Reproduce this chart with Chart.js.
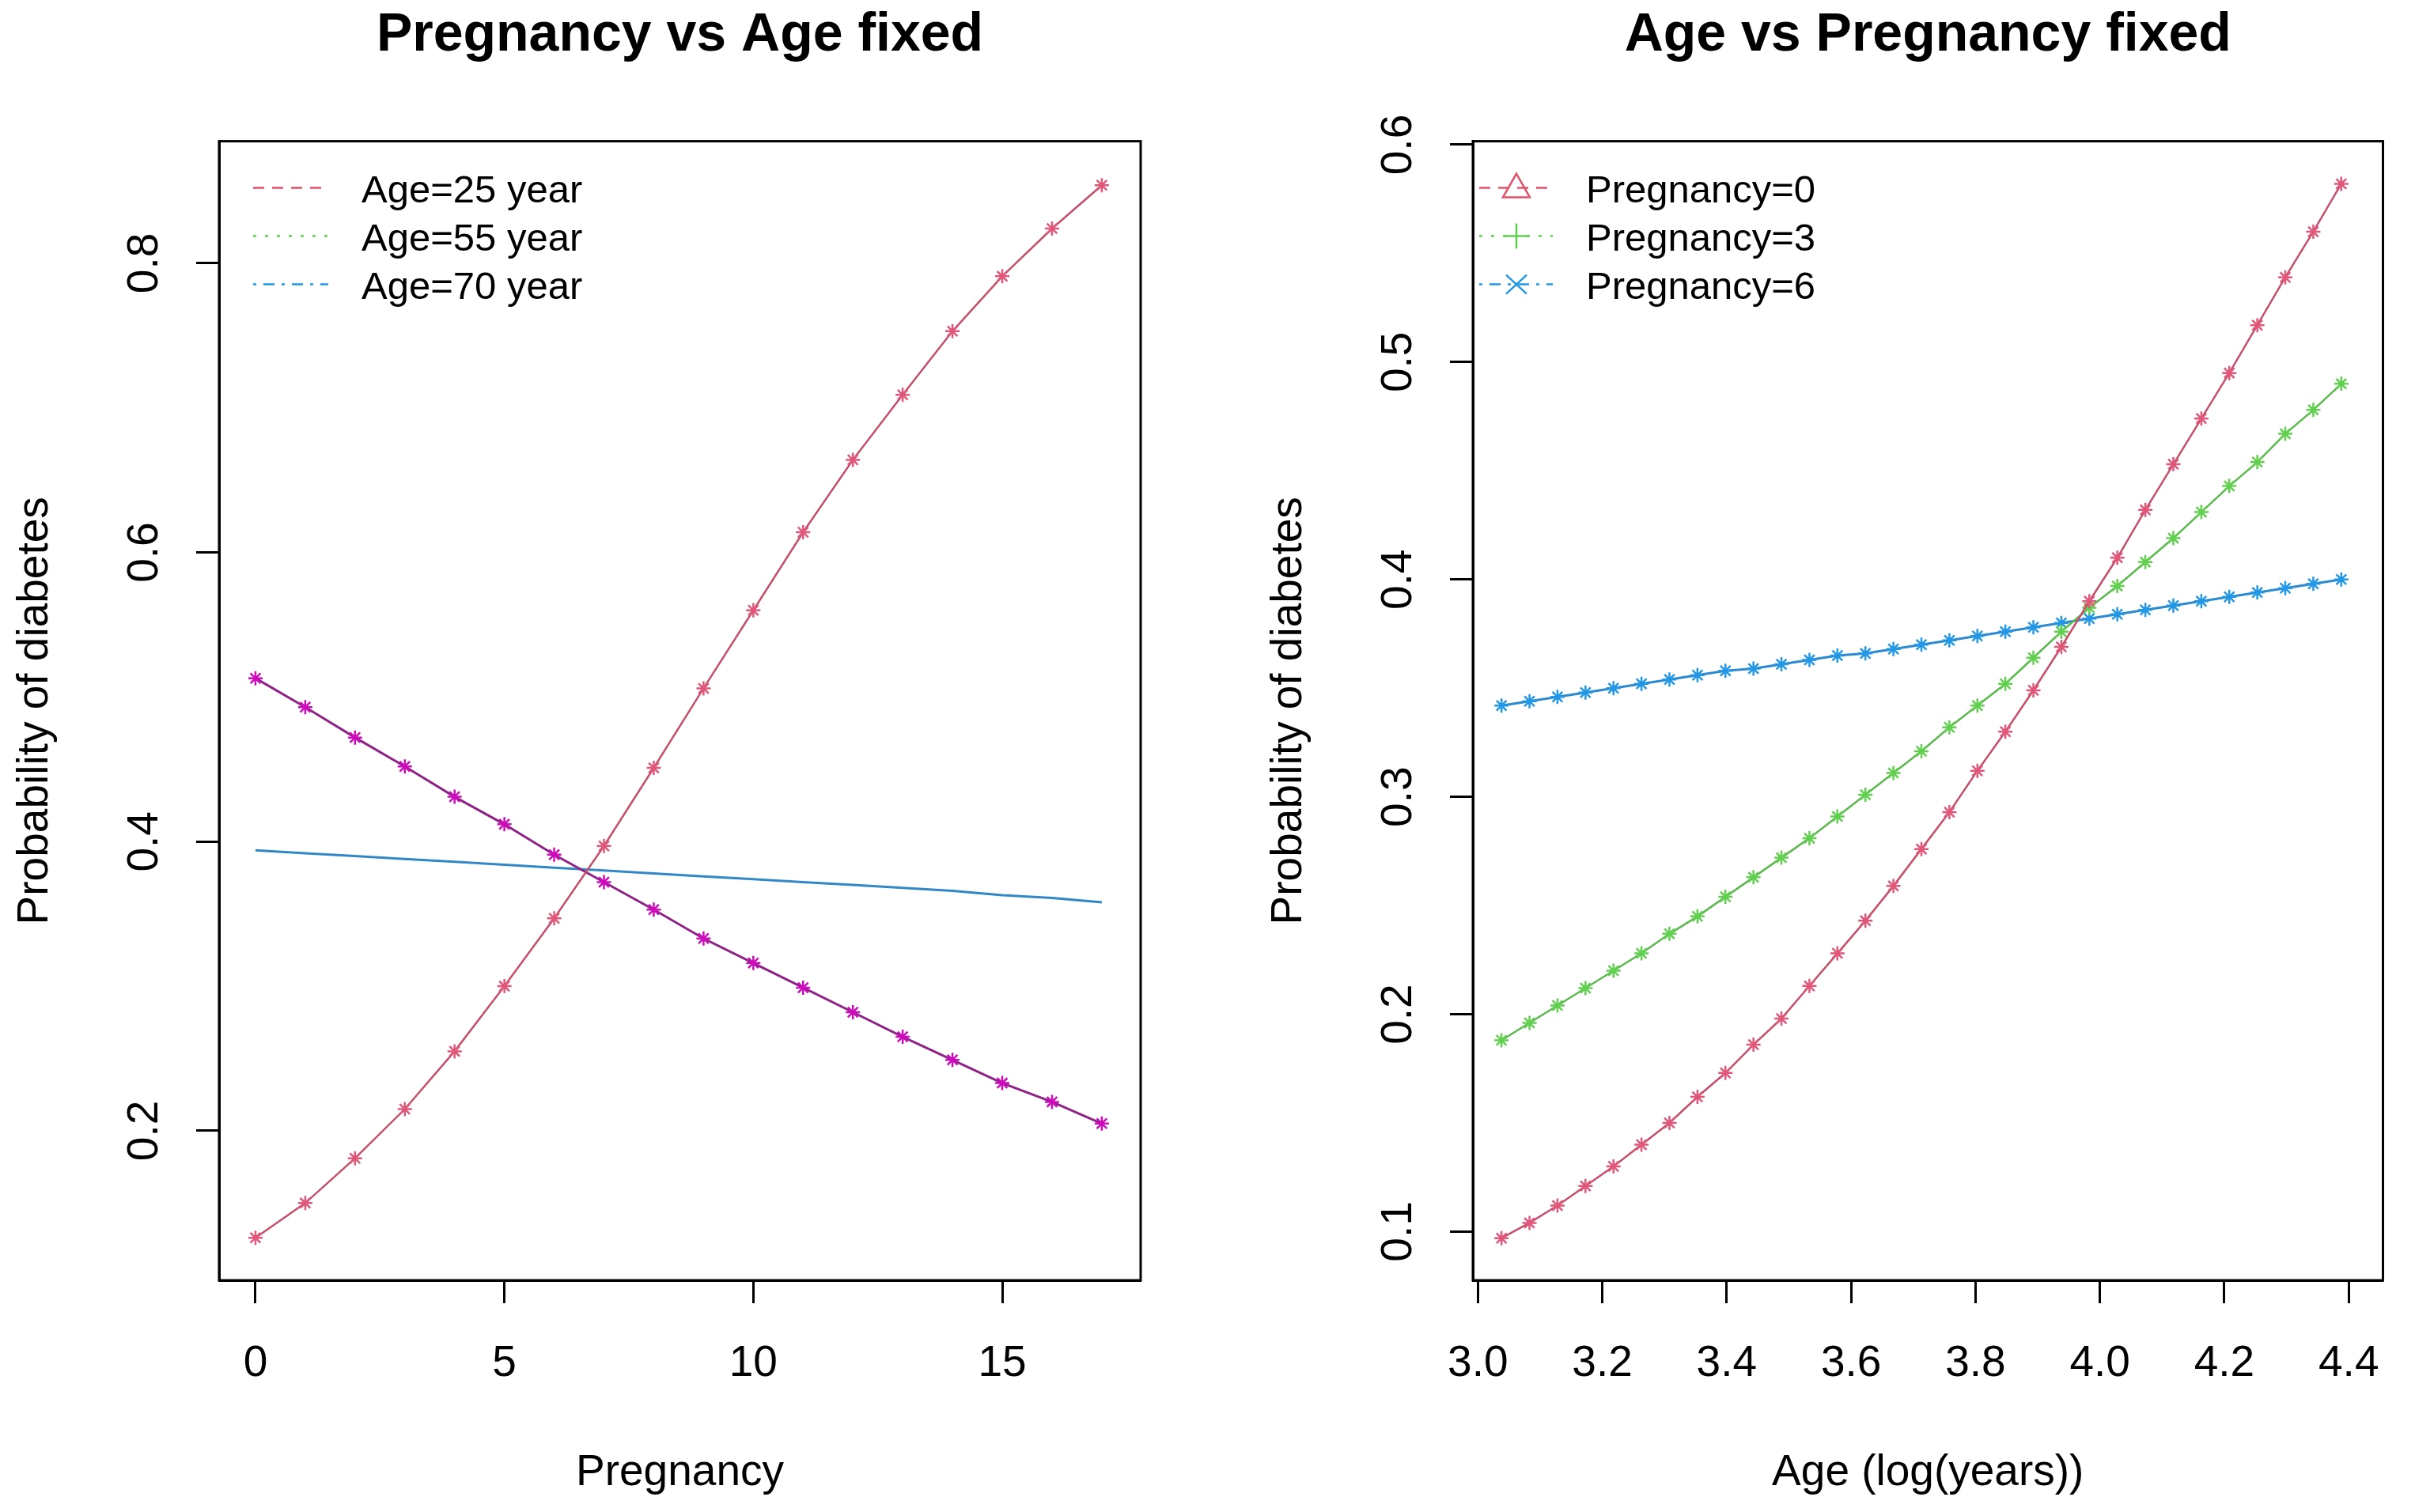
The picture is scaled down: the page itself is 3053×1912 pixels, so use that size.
<!DOCTYPE html>
<html>
<head>
<meta charset="utf-8">
<title>Probability of diabetes</title>
<script src="https://cdn.jsdelivr.net/npm/chart.js@4.4.1/dist/chart.umd.min.js"></script>
<style>
  html, body { margin: 0; padding: 0; background: #fff; }
  #page { position: relative; width: 3053px; height: 1912px; background: #fff; }
  canvas { position: absolute; top: 0; }
  #leftChart { left: 0; }
  #rightChart { left: 1526px; }
</style>
</head>
<body>
<div id="page">
  <canvas id="leftChart" width="1526" height="1912"></canvas>
  <canvas id="rightChart" width="1527" height="1912"></canvas>
</div>
<script>
// left panel: pregnancies with age fixed
var pregnancies = [0, 1, 2, 3, 4, 5, 6, 7, 8, 9, 10, 11, 12, 13, 14, 15, 16, 17];
var age25 = [0.126, 0.150, 0.181, 0.215, 0.255, 0.300, 0.347, 0.397, 0.451, 0.506, 0.560, 0.614, 0.664, 0.709, 0.753, 0.791, 0.824, 0.854];
var age55 = [0.513, 0.493, 0.472, 0.452, 0.431, 0.412, 0.391, 0.372, 0.353, 0.333, 0.316, 0.299, 0.282, 0.265, 0.249, 0.233, 0.220, 0.205];
var age70 = [0.394, 0.392, 0.390, 0.388, 0.386, 0.384, 0.382, 0.380, 0.378, 0.376, 0.374, 0.372, 0.370, 0.368, 0.366, 0.363, 0.361, 0.358];
var leftXTicks = [0, 5, 10, 15];
var leftYTicks = [0.2, 0.4, 0.6, 0.8];
var leftLabels = ['Age=25 year', 'Age=55 year', 'Age=70 year'];

// right panel: log(age) with pregnancy fixed
var logAge = [3.038, 3.083, 3.128, 3.173, 3.218, 3.263, 3.308, 3.353, 3.398, 3.443, 3.488, 3.533, 3.578, 3.623, 3.668, 3.713,
              3.758, 3.803, 3.848, 3.893, 3.938, 3.983, 4.028, 4.073, 4.118, 4.163, 4.208, 4.253, 4.298, 4.343, 4.388];
var preg0 = [0.097, 0.104, 0.112, 0.121, 0.130, 0.140, 0.150, 0.162, 0.173, 0.186, 0.198, 0.213, 0.228, 0.243, 0.259, 0.276,
             0.293, 0.312, 0.330, 0.349, 0.369, 0.390, 0.410, 0.432, 0.453, 0.474, 0.495, 0.517, 0.539, 0.560, 0.582];
var preg3 = [0.188, 0.196, 0.204, 0.212, 0.220, 0.228, 0.237, 0.245, 0.254, 0.263, 0.272, 0.281, 0.291, 0.301, 0.311, 0.321,
             0.332, 0.342, 0.352, 0.364, 0.376, 0.387, 0.397, 0.408, 0.419, 0.431, 0.443, 0.454, 0.467, 0.478, 0.490];
var preg6 = [0.342, 0.344, 0.346, 0.348, 0.350, 0.352, 0.354, 0.356, 0.358, 0.359, 0.361, 0.363, 0.365, 0.366, 0.368, 0.370,
             0.372, 0.374, 0.376, 0.378, 0.380, 0.382, 0.384, 0.386, 0.388, 0.390, 0.392, 0.394, 0.396, 0.398, 0.400];
var rightXTicks = [3.0, 3.2, 3.4, 3.6, 3.8, 4.0, 4.2, 4.4];
var rightYTicks = [0.1, 0.2, 0.3, 0.4, 0.5, 0.6];
var rightLabels = ['Pregnancy=0', 'Pregnancy=3', 'Pregnancy=6'];

var FONT = "'Liberation Sans', Arial, sans-serif";

function toPoints(xs, ys) {
    var r = [];
    for (var i = 0; i < xs.length; i++) {
        r.push({ x: xs[i], y: ys[i] });
    }
    return r;
}

// box around the plot region, like R's box()
var boxPlugin = {
    id: 'rBox',
    afterDraw: function (chart) {
        var a = chart.chartArea, ctx = chart.ctx;
        ctx.save();
        ctx.strokeStyle = '#000';
        ctx.lineWidth = 3;
        ctx.strokeRect(a.left, a.top, a.right - a.left, a.bottom - a.top);
        ctx.restore();
    }
};

// y tick labels parallel to the axis (R las=0)
var yLabelPlugin = {
    id: 'rYLabels',
    afterDraw: function (chart) {
        var scale = chart.scales.y, ctx = chart.ctx;
        ctx.save();
        ctx.font = '55px ' + FONT;
        ctx.fillStyle = '#000';
        ctx.textAlign = 'center';
        ctx.textBaseline = 'middle';
        scale.ticks.forEach(function (t) {
            ctx.save();
            ctx.translate(chart.chartArea.left - 93, scale.getPixelForValue(t.value));
            ctx.rotate(-Math.PI / 2);
            ctx.fillText(t.value.toFixed(1), 0, 0);
            ctx.restore();
        });
        ctx.restore();
    }
};

function drawSymbol(ctx, type, x, y, color) {
    ctx.save();
    ctx.strokeStyle = color;
    ctx.lineWidth = 2.5;
    ctx.setLineDash([]);
    ctx.beginPath();
    if (type === 'triangle') {
        ctx.moveTo(x, y - 18);
        ctx.lineTo(x + 17, y + 12);
        ctx.lineTo(x - 17, y + 12);
        ctx.closePath();
    } else if (type === 'plus') {
        ctx.moveTo(x - 16, y); ctx.lineTo(x + 16, y);
        ctx.moveTo(x, y - 16); ctx.lineTo(x, y + 16);
    } else if (type === 'x') {
        ctx.moveTo(x - 13, y - 12); ctx.lineTo(x + 13, y + 12);
        ctx.moveTo(x - 13, y + 12); ctx.lineTo(x + 13, y - 12);
    }
    ctx.stroke();
    ctx.restore();
}

// R style legend without a frame
var legendPlugin = {
    id: 'rLegend',
    afterDraw: function (chart, args, opts) {
        var a = chart.chartArea, ctx = chart.ctx;
        opts.labels.forEach(function (label, i) {
            var y = a.top + opts.rowTop + i * opts.rowGap;
            ctx.save();
            ctx.strokeStyle = opts.colors[i];
            ctx.lineWidth = 2.5;
            ctx.setLineDash(opts.dashes[i]);
            ctx.beginPath();
            ctx.moveTo(a.left + opts.lineStart, y);
            ctx.lineTo(a.left + opts.lineEnd, y);
            ctx.stroke();
            if (opts.symbols) {
                drawSymbol(ctx, opts.symbols[i], a.left + opts.symbolX, y, opts.colors[i]);
            }
            ctx.fillStyle = '#000';
            ctx.font = '49px ' + FONT;
            ctx.textBaseline = 'middle';
            ctx.textAlign = 'left';
            ctx.fillText(label, a.left + opts.textX, y + 5);
            ctx.restore();
        });
    }
};

function seriesStyle(label, data, lineColor, pointColor, lineWidth, radius) {
    return {
        label: label,
        data: data,
        borderColor: lineColor,
        borderWidth: lineWidth,
        pointStyle: 'star',
        pointRadius: radius,
        pointBorderColor: pointColor,
        pointBorderWidth: 2.5,
        pointBackgroundColor: pointColor,
        tension: 0,
        fill: false
    };
}

function axisGrid() {
    return {
        display: true,
        drawOnChartArea: false,
        drawTicks: true,
        tickLength: 29,
        tickWidth: 3,
        tickColor: '#000'
    };
}

function CreateChart(id, cfg) {
    var ctx = document.getElementById(id);
    return new Chart(ctx, {
        type: 'line',
        data: { datasets: cfg.datasets },
        options: {
            responsive: false,
            animation: false,
            devicePixelRatio: 1,
            events: [],
            layout: { padding: cfg.padding },
            plugins: {
                legend: { display: false },
                tooltip: { enabled: false },
                title: {
                    display: true,
                    text: cfg.title,
                    color: '#000',
                    fullSize: false,
                    font: { family: FONT, size: 68, weight: 'bold' },
                    padding: { top: 4, bottom: 93 }
                },
                rLegend: cfg.legend
            },
            scales: {
                x: {
                    type: 'linear',
                    min: cfg.xMin,
                    max: cfg.xMax,
                    afterBuildTicks: function (scale) {
                        scale.ticks = cfg.xTicks.map(function (v) { return { value: v }; });
                    },
                    afterFit: function (scale) { scale.height = 293; },
                    grid: axisGrid(),
                    border: { display: true, color: '#000', width: 3 },
                    ticks: {
                        autoSkip: false,
                        maxRotation: 0,
                        padding: 44,
                        color: '#000',
                        font: { family: FONT, size: 55 },
                        callback: cfg.xFormat
                    },
                    title: {
                        display: true,
                        text: cfg.xTitle,
                        color: '#000',
                        font: { family: FONT, size: 55 },
                        padding: { top: 0, bottom: 16 }
                    }
                },
                y: {
                    type: 'linear',
                    min: cfg.yMin,
                    max: cfg.yMax,
                    afterBuildTicks: function (scale) {
                        scale.ticks = cfg.yTicks.map(function (v) { return { value: v }; });
                    },
                    afterFit: function (scale) { scale.width = 277; },
                    grid: axisGrid(),
                    border: { display: true, color: '#000', width: 3 },
                    ticks: { display: false },
                    title: {
                        display: true,
                        text: 'Probability of diabetes',
                        color: '#000',
                        font: { family: FONT, size: 55 },
                        padding: { top: 12, bottom: 0 }
                    }
                }
            }
        },
        plugins: [boxPlugin, yLabelPlugin, legendPlugin]
    });
}

CreateChart('leftChart', {
    title: 'Pregnancy vs Age fixed',
    xTitle: 'Pregnancy',
    padding: { left: 0, right: 84, top: 0, bottom: 0 },
    xMin: -0.73, xMax: 17.78,
    yMin: 0.0966, yMax: 0.8844,
    xTicks: leftXTicks,
    yTicks: leftYTicks,
    xFormat: function (v) { return String(v); },
    datasets: [
        seriesStyle(leftLabels[0], toPoints(pregnancies, age25), '#C4506A', '#E0577A', 2.5, 9),
        seriesStyle(leftLabels[1], toPoints(pregnancies, age55), '#8F2286', '#CD0BBC', 3, 9),
        seriesStyle(leftLabels[2], toPoints(pregnancies, age70), '#3288C6', '#2297E6', 3, 0)
    ],
    legend: {
        labels: leftLabels,
        colors: ['#DF536B', '#61D04F', '#2297E6'],
        dashes: [[14, 10], [4, 11], [4, 9, 14, 9]],
        rowTop: 59, rowGap: 61,
        lineStart: 43, lineEnd: 138, textX: 180
    }
});

CreateChart('rightChart', {
    title: 'Age vs Pregnancy fixed',
    xTitle: 'Age (log(years))',
    padding: { left: 59, right: 33, top: 0, bottom: 0 },
    xMin: 2.992, xMax: 4.455,
    yMin: 0.0776, yMax: 0.6016,
    xTicks: rightXTicks,
    yTicks: rightYTicks,
    xFormat: function (v) { return v.toFixed(1); },
    datasets: [
        seriesStyle(rightLabels[0], toPoints(logAge, preg0), '#C4506A', '#E0577A', 2.5, 9),
        seriesStyle(rightLabels[1], toPoints(logAge, preg3), '#5CB84E', '#61D04F', 2.5, 9),
        seriesStyle(rightLabels[2], toPoints(logAge, preg6), '#2C8AD0', '#2297E6', 3, 9)
    ],
    legend: {
        labels: rightLabels,
        colors: ['#DF536B', '#61D04F', '#2297E6'],
        dashes: [[14, 10], [4, 11], [4, 9, 14, 9]],
        symbols: ['triangle', 'plus', 'x'],
        rowTop: 59, rowGap: 61,
        lineStart: 8, lineEnd: 101, symbolX: 55, textX: 143
    }
});
</script>
</body>
</html>
